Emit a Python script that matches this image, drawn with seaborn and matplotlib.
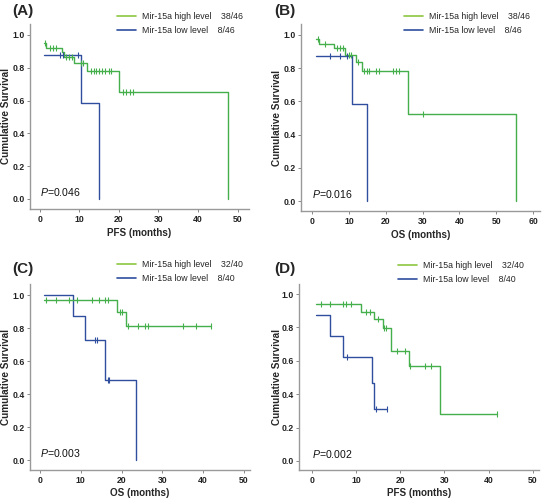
import numpy as np
import pandas as pd
import matplotlib
matplotlib.use("Agg")
import matplotlib.pyplot as plt
from matplotlib.lines import Line2D
import seaborn as sns

sns.set_theme(style="ticks")
plt.rcParams['font.family'] = ['Liberation Sans', 'DejaVu Sans']
plt.rcParams['mathtext.fontset'] = 'custom'
plt.rcParams['mathtext.it'] = 'Liberation Sans:italic'
plt.rcParams['mathtext.rm'] = 'Liberation Sans'

GREEN = "#45B04B"
GREEN_LEG = "#8CC63F"
BLUE = "#2F4F9E"

# ---------------- Data ----------------
# Panel A (PFS, cohort 46)
A_high_t = [1, 1.6, 5.6, 6.1, 8.6, 12, 20, 47.5]
A_high_s = [0.949, 0.922, 0.895, 0.868, 0.828, 0.781, 0.651, 0.0]
A_high_cens = [1.3, 2.5, 3.3, 4.2, 6.6, 7.3, 8.1, 10.3, 11.0, 13.0, 13.6, 14.3, 15.0, 15.7, 16.4, 17.4, 18.1, 21.0, 21.8, 22.7, 23.6]
A_low_t = [1, 10.5, 15.0]
A_low_s = [0.875, 0.583, 0.0]
A_low_cens = [5.0, 5.8, 9.6]

# Panel B (OS, cohort 46)
B_high_t = [1, 2, 5.9, 8.9, 11.9, 13.6, 26, 55.5]
B_high_s = [0.974, 0.947, 0.921, 0.882, 0.84, 0.786, 0.524, 0.0]
B_high_cens = [1.5, 3.6, 6.8, 7.6, 8.4, 10.0, 10.7, 12.6, 14.2, 14.9, 15.6, 17.4, 18.1, 22.0, 22.8, 23.7, 30.0]
B_low_t = [1, 10.9, 14.9]
B_low_s = [0.875, 0.583, 0.0]
B_low_cens = [5.0, 7.6, 9.6]

# Panel C (OS, cohort 40)
C_high_t = [1, 19.0, 21.0, 42.0]
C_high_s = [0.969, 0.90, 0.815, 0.815]
C_high_cens = [1.5, 4.0, 7.2, 9.0, 12.8, 14.5, 16.0, 16.8, 19.6, 20.2, 21.6, 24.0, 25.8, 26.6, 35.0, 38.2, 42.0]
C_low_t = [1, 8.0, 11.0, 16.0, 23.5]
C_low_s = [1.0, 0.875, 0.729, 0.486, 0.0]
C_low_cens = [13.6, 14.0, 16.6, 17.0]

# Panel D (PFS, cohort 40)
D_high_t = [1, 11.0, 14.0, 16.0, 18.0, 22.0, 29.0, 42.0]
D_high_s = [0.9375, 0.894, 0.849, 0.796, 0.661, 0.567, 0.283, 0.283]
D_high_cens = [2.0, 4.0, 7.0, 7.8, 8.9, 12.2, 13.2, 15.0, 16.3, 16.8, 19.3, 21.0, 22.2, 25.5, 26.9, 42.0]
D_low_t = [1, 4.0, 7.0, 13.5, 14.0, 17.0]
D_low_s = [0.875, 0.75, 0.625, 0.469, 0.3125, 0.3125]
D_low_cens = [8.0, 14.4, 17.0]

panels = [
    dict(tag="(A)", xlabel="PFS (months)", p="0.046", n="46", nh="38", nl="8",
         ht=A_high_t, hs=A_high_s, hc=A_high_cens, lt=A_low_t, ls=A_low_s, lc=A_low_cens,
         xticks=[0, 10, 20, 30, 40, 50], xlim=(-2.5, 52.9), ylim=(-0.061, 1.067),
         pos=[30, 24, 249, 209], tagpos=(12, 4), legpos=(117, 12), xlab_y=233, ylab_x=11),
    dict(tag="(B)", xlabel="OS (months)", p="0.016", n="46", nh="38", nl="8",
         ht=B_high_t, hs=B_high_s, hc=B_high_cens, lt=B_low_t, ls=B_low_s, lc=B_low_cens,
         xticks=[0, 10, 20, 30, 40, 50, 60], xlim=(-3.0, 61.9), ylim=(-0.06, 1.066),
         pos=[301, 24, 540, 211], tagpos=(274, 4), legpos=(404, 12), xlab_y=235, ylab_x=282),
    dict(tag="(C)", xlabel="OS (months)", p="0.003", n="40", nh="32", nl="8",
         ht=C_high_t, hs=C_high_s, hc=C_high_cens, lt=C_low_t, ls=C_low_s, lc=C_low_cens,
         xticks=[0, 10, 20, 30, 40, 50], xlim=(-2.45, 51.5), ylim=(-0.06, 1.067),
         pos=[30, 284, 250, 470], tagpos=(12, 262), legpos=(117, 260), xlab_y=493, ylab_x=11),
    dict(tag="(D)", xlabel="PFS (months)", p="0.002", n="40", nh="32", nl="8",
         ht=D_high_t, hs=D_high_s, hc=D_high_cens, lt=D_low_t, ls=D_low_s, lc=D_low_cens,
         xticks=[0, 10, 20, 30, 40, 50], xlim=(-2.94, 51.4), ylim=(-0.054, 1.06),
         pos=[299, 284, 539, 470], tagpos=(274, 262), legpos=(398, 261), xlab_y=493, ylab_x=282),
]

W, H = 545, 501
fig = plt.figure(figsize=(W / 100, H / 100), dpi=100)


def step_value(ts, ss, x):
    idx = np.searchsorted(np.asarray(ts), x, side="right") - 1
    return np.asarray(ss)[idx]


for P in panels:
    x0, y0, x1, y1 = P["pos"]
    ax = fig.add_axes([x0 / W, 1 - y1 / H, (x1 - x0) / W, (y1 - y0) / H])
    for t, s, c, col in [(P["lt"], P["ls"], P["lc"], BLUE), (P["ht"], P["hs"], P["hc"], GREEN)]:
        df = pd.DataFrame({"t": t, "s": s})
        sns.lineplot(data=df, x="t", y="s", ax=ax, sort=False, drawstyle="steps-post",
                     color=col, linewidth=1.0, estimator=None)
        cy = step_value(t, s, np.asarray(c))
        cdf = pd.DataFrame({"t": c, "s": cy})
        sns.scatterplot(data=cdf, x="t", y="s", ax=ax, marker="|", s=14,
                        color=col, linewidth=0.8, zorder=3)
    ax.set_xlim(*P["xlim"])
    ax.set_ylim(*P["ylim"])
    ax.set_xticks(P["xticks"])
    ax.set_yticks([0.0, 0.2, 0.4, 0.6, 0.8, 1.0])
    ax.set_yticklabels(["0.0", "0.2", "0.4", "0.6", "0.8", "1.0"])
    for lab in ax.get_xticklabels() + ax.get_yticklabels():
        lab.set_fontweight("bold")
        lab.set_fontsize(6.2)
        lab.set_color("#222222")
    ax.tick_params(axis="both", length=2.5, width=0.7, color="#888888", pad=1.5)
    for side in ["top", "right"]:
        ax.spines[side].set_visible(False)
    for side in ["left", "bottom"]:
        ax.spines[side].set_color("#999999")
        ax.spines[side].set_linewidth(1.0)
    ax.set_xlabel(P["xlabel"], fontsize=7.1, fontweight="bold")
    ax.set_ylabel("Cumulative Survival", fontsize=7.2, fontweight="bold")
    # place axis labels (label anchor: xlabel top edge, ylabel right edge)
    ax.xaxis.set_label_coords(0.5, -(P["xlab_y"] - 5 - y1) / (y1 - y0))
    ax.yaxis.set_label_coords(-(x0 - P["ylab_x"]) / (x1 - x0), 0.5)
    ax.text(0, 0.005, r"$\it{P}$=" + P["p"], fontsize=7.6, va="bottom", ha="left", color="#111111")
    fig.text(P["tagpos"][0] / W, 1 - P["tagpos"][1] / H, P["tag"], fontsize=11,
             fontweight="bold", va="top", ha="left")
    handles = [Line2D([], [], color=GREEN_LEG, lw=1.2), Line2D([], [], color=BLUE, lw=1.2)]
    labels = [f"Mir-15a high level    {P['nh']}/{P['n']}", f"Mir-15a low level    {P['nl']}/{P['n']}"]
    ax.legend(handles, labels, loc="upper left",
              bbox_to_anchor=(P["legpos"][0] / W, 1 - P["legpos"][1] / H),
              bbox_transform=fig.transFigure, frameon=False, fontsize=6.3,
              handlelength=2.2, handletextpad=0.7, labelspacing=0.6,
              borderpad=0, borderaxespad=0)

fig.savefig("out.png", dpi=100)
